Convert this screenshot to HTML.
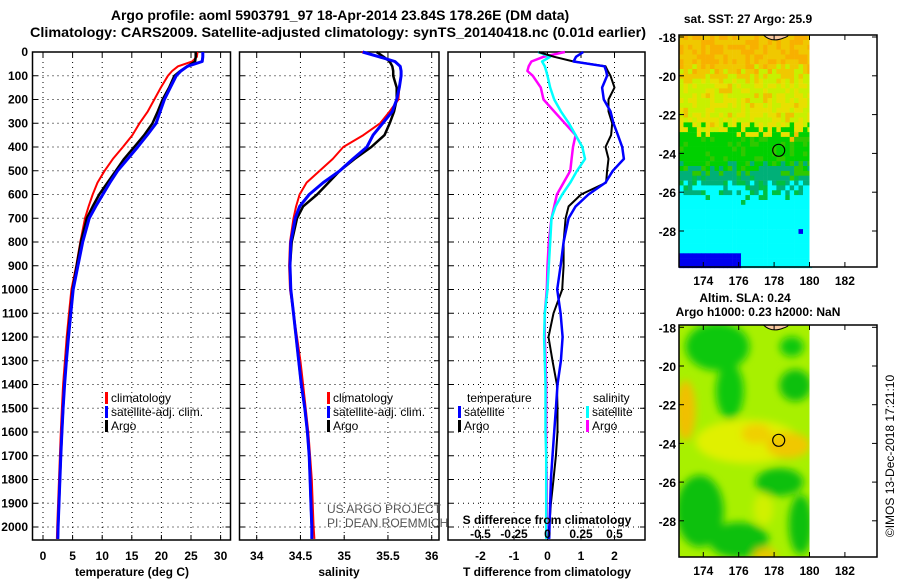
<!DOCTYPE html>
<html><head><meta charset="utf-8"><style>
body{margin:0;background:#fff;}
svg{display:block;font-family:"Liberation Sans",sans-serif;}
.tk{font-size:12px;font-weight:bold;}
.lg{font-size:12px;}
</style></head><body>
<svg id="c" width="900" height="580" viewBox="0 0 900 580">
<text x="340" y="20" text-anchor="middle" font-size="14" font-weight="bold">Argo profile: aoml 5903791_97 18-Apr-2014 23.84S 178.26E (DM data)</text>
<text x="30" y="37" font-size="14" font-weight="bold" textLength="616" lengthAdjust="spacingAndGlyphs">Climatology: CARS2009. Satellite-adjusted climatology: synTS_20140418.nc (0.01d earlier)</text>
<g id="g"></g>
</svg>
<script>
const depths=[0,20,40,60,80,100,150,200,250,300,350,400,450,500,550,600,650,700,800,900,1000,1100,1200,1300,1400,1500,1600,1700,1800,1900,2000,2050];
const tempArgo=[25.8,25.8,25.7,24.4,23.2,22.2,21.3,20.2,19.4,18.5,17.1,15.4,13.7,12.3,10.9,9.5,8.4,7.4,6.4,5.7,5.0,4.6,4.2,3.9,3.6,3.4,3.2,3.0,2.85,2.7,2.55,2.5];
const tempClim=[26.1,26.0,25.2,22.8,21.8,21.1,19.9,18.8,17.7,16.3,15.1,13.5,11.8,10.4,9.2,8.4,7.7,7.1,6.3,5.6,4.8,4.4,4.0,3.7,3.4,3.2,3.0,2.85,2.7,2.55,2.4,2.35];
const tempSat=[27.0,27.0,26.9,24.4,23.3,22.5,21.5,20.5,19.8,19.1,17.6,16.0,14.3,12.6,11.3,10.1,8.9,7.8,6.7,5.9,5.1,4.7,4.3,3.95,3.65,3.4,3.2,3.0,2.85,2.7,2.55,2.5];
const salArgo=[35.37,35.45,35.52,35.55,35.56,35.56,35.6,35.6,35.57,35.52,35.46,35.31,35.12,34.95,34.82,34.69,34.53,34.46,34.4,34.38,34.39,34.42,34.45,34.48,34.51,34.55,34.58,34.6,34.61,34.62,34.63,34.63];
const salClim=[35.2,35.4,35.58,35.64,35.65,35.65,35.63,35.62,35.52,35.41,35.22,34.99,34.87,34.72,34.57,34.49,34.45,34.42,34.38,34.37,34.38,34.42,34.46,34.5,34.53,34.56,34.59,34.61,34.63,34.64,34.65,34.66];
const salSat=[35.21,35.4,35.58,35.64,35.65,35.65,35.63,35.6,35.55,35.44,35.33,35.26,35.1,34.95,34.76,34.6,34.49,34.44,34.39,34.38,34.39,34.42,34.45,34.48,34.51,34.55,34.58,34.6,34.61,34.62,34.63,34.63];
const tdArgo=[-0.27,0.2,0.78,1.73,1.8,1.88,2.0,1.82,1.82,1.93,1.9,1.73,1.82,1.78,1.75,1.0,0.63,0.54,0.48,0.48,0.44,0.18,0.03,0.15,0.28,0.3,0.3,0.25,0.18,0.1,0.05,0.03];
const tdSat=[1.07,0.85,0.78,1.7,1.75,1.78,1.63,1.68,1.88,1.97,2.1,2.23,2.28,1.95,1.73,1.22,0.84,0.63,0.48,0.39,0.29,0.39,0.45,0.4,0.3,0.25,0.2,0.15,0.1,0.08,0.06,0.05];
const sdArgo=[0.13,-0.03,-0.12,-0.14,-0.15,-0.11,-0.05,-0.03,0.05,0.13,0.21,0.19,0.18,0.17,0.12,0.07,0.05,0.03,0.01,0,-0.005,-0.02,-0.02,-0.015,-0.01,-0.01,-0.01,-0.01,-0.005,-0.005,-0.005,0];
const sdSat=[-0.07,0.02,-0.04,-0.02,-0.01,0,0.02,0.05,0.1,0.16,0.21,0.26,0.28,0.22,0.17,0.11,0.06,0.03,0.02,0.01,0,-0.02,-0.025,-0.02,-0.015,-0.015,-0.015,-0.01,-0.01,-0.01,-0.01,-0.01];
const depthTicks=[0,100,200,300,400,500,600,700,800,900,1000,1100,1200,1300,1400,1500,1600,1700,1800,1900,2000];
const tTicks=[0,5,10,15,20,25,30];
const sTicks=[34,34.5,35,35.5,36];
const sTickLabels=["34","34.5","35","35.5","36"];
const tdTicks=[-2,-1,0,1,2];
const sdTicks=[-0.5,-0.25,0,0.25,0.5];
const sdTickLabels=["-0.5","-0.25","0","0.25","0.5"];
const lonTicks=[174,176,178,180,182];
const latTicks=[-18,-20,-22,-24,-26,-28];

const NS="http://www.w3.org/2000/svg";
const G=document.getElementById('g');
function mk(t,a,txt,par){const e=document.createElementNS(NS,t);for(const k in a)e.setAttribute(k,a[k]);if(txt!==undefined)e.textContent=txt;(par||G).appendChild(e);return e;}
const yD=d=>52+d*0.2375;
const xT=v=>43+v*5.92;
const xS=v=>256.7+(v-34)*87.5;
const xTD=v=>547.5+v*33.5;
const xSD=v=>547.5+v*134;
const TOP=52,BOT=540;

function panel(x0,x1,name,xf,ticks,labels){
  const fr=mk('rect',{x:x0,y:TOP,width:x1-x0,height:BOT-TOP,fill:'none',stroke:'#000','stroke-width':1.5});
  
  
  depthTicks.forEach(d=>{const l=mk('line',{x1:x0,x2:x1,y1:yD(d),y2:yD(d),stroke:'#000','stroke-dasharray':'1 4','stroke-width':1});
    
    mk('line',{x1:x0,x2:x0+5,y1:yD(d),y2:yD(d),stroke:'#000'});mk('line',{x1:x1-5,x2:x1,y1:yD(d),y2:yD(d),stroke:'#000'});});
  ticks.forEach((v,i)=>{const x=xf(v);
    const l=mk('line',{x1:x,x2:x,y1:TOP,y2:BOT,stroke:'#000','stroke-dasharray':'1 4'});
    
    mk('line',{x1:x,x2:x,y1:BOT-5,y2:BOT,stroke:'#000'});mk('line',{x1:x,x2:x,y1:TOP,y2:TOP+5,stroke:'#000'});
    const t=mk('text',{x:x,y:560,'text-anchor':'middle',class:'tk'},labels?labels[i]:String(v));
    });
}
function line(xf,vals,col,w,name){
  const pts=vals.map((v,i)=>xf(v).toFixed(1)+','+yD(depths[i]).toFixed(1)).join(' ');
  const p=mk('polyline',{points:pts,fill:'none',stroke:col,'stroke-width':w,'stroke-linejoin':'round'});
  
  
}
depthTicks.forEach(d=>{const t=mk('text',{x:28,y:yD(d)+4,'text-anchor':'end',class:'tk'},String(d));
  });

panel(32.5,230.5,'temperature-panel',xT,tTicks);
line(xT,tempClim,'#f00',2,'temp-climatology-line');
line(xT,tempArgo,'#000',2.5,'temp-argo-line');
line(xT,tempSat,'#00f',3,'temp-satellite-line');

panel(239.5,439,'salinity-panel',xS,sTicks,sTickLabels);
line(xS,salClim,'#f00',2,'sal-climatology-line');
line(xS,salArgo,'#000',2.5,'sal-argo-line');
line(xS,salSat,'#00f',3,'sal-satellite-line');

panel(448,645,'difference-panel',xTD,tdTicks);
line(xSD,sdArgo,'#f0f',2.5,'sdiff-argo-line');
line(xSD,sdSat,'#0ff',2.5,'sdiff-satellite-line');
line(xTD,tdArgo,'#000',2,'tdiff-argo-line');
line(xTD,tdSat,'#00f',2.5,'tdiff-satellite-line');

mk('text',{x:547,y:524,'text-anchor':'middle',class:'tk','font-size':'13'},'S difference from climatology');
sdTicks.forEach((v,i)=>{const t=mk('text',{x:xSD(v),y:538,'text-anchor':'middle',class:'tk'},sdTickLabels[i]);
  });

[['temperature (deg C)',132,'temp-axis-title'],['salinity',339,'salinity-axis-title'],['T difference from climatology',547,'tdiff-axis-title']].forEach(a=>{
  const t=mk('text',{x:a[1],y:576,'text-anchor':'middle',class:'tk'},a[0]);
  });

function leg(x,y,col,txt,name){const r=mk('rect',{x:x,y:y-10,width:3,height:12,fill:col});
  const t=mk('text',{x:x+6,y:y,class:'lg'},txt);
  }
leg(105,402,'#f00','climatology','legend-temp-climatology');
leg(105,416,'#00f','satellite-adj. clim.','legend-temp-satellite');
leg(105,430,'#000','Argo','legend-temp-argo');
leg(327,402,'#f00','climatology','legend-sal-climatology');
leg(327,416,'#00f','satellite-adj. clim.','legend-sal-satellite');
leg(327,430,'#000','Argo','legend-sal-argo');
mk('text',{x:467,y:402,class:'lg'},'temperature');
mk('text',{x:593,y:402,class:'lg'},'salinity');
leg(458,416,'#00f','satellite','legend-tdiff-satellite');
leg(458,430,'#000','Argo','legend-tdiff-argo');
leg(586,416,'#0ff','satellite','legend-sdiff-satellite');
leg(586,430,'#f0f','Argo','legend-sdiff-argo');
mk('text',{x:327,y:513,class:'lg',fill:'#555'},'US ARGO PROJECT');
mk('text',{x:327,y:527,class:'lg',fill:'#555'},'PI: DEAN ROEMMICH');

const MX0=679,MX1=877;
const lonX=l=>703.3+(l-174)*17.7;
function hash(i,j){let h=(i*374761393+j*668265263)>>>0;h=((h^(h>>>13))*1274126177)>>>0;return (h&1023)/1023;}
function map(top,bot,latY,name,sst){
  const g=mk('g',{});
  if(sst){
    const cw=17.7/4,ch=19.4/4;
    for(let lat=-17.9;lat>-29.9;lat-=0.25){for(let lon=172.63;lon<180;lon+=0.25){
      const i=Math.round((lon-172)*4),j=Math.round(-lat*4),h=hash(i,j);
      let c;const L=lat+ (h-0.5)*1.2;
      if(L>-20)c=h<0.5?'#f8b000':'#f0c800';
      else if(L>-22.8)c=h<0.45?'#c8f000':(h<0.8?'#e8e000':'#f0c000');
      else if(L>-24.8)c=h<0.6?'#00d000':'#30c800';
      else if(L>-25.9)c=h<0.7?'#00b078':'#00c040';
      else c='#00ffff';
      if(lat<-29&&lon<176)c='#0000f0';
      if(lat<-26&&lon>177.5&&h>0.93)c='#0000f0';
      mk('rect',{x:lonX(lon).toFixed(1),y:latY(lat).toFixed(1),width:cw+0.3,height:ch+0.3,fill:c},undefined,g);}}
  }else{
    mk('rect',{x:MX0,y:top,width:lonX(180)-MX0,height:bot-top,fill:'#a8f000'},undefined,g);
    const f=mk('filter',{id:'bl',x:'-50%',y:'-50%',width:'200%',height:'200%'},undefined,g);
    mk('feGaussianBlur',{stdDeviation:4},undefined,f);
    const b=mk('g',{filter:'url(#bl)'},undefined,g);
    [[174.8,-19,32,24,'#10c810'],[175.5,-21.3,14,28,'#10c810'],[179,-19,12,10,'#10c810'],[179.2,-21,16,16,'#10c010'],[176.5,-23.9,52,22,'#e0f000'],[173,-22.3,10,30,'#f0c000'],[178.8,-24.1,22,13,'#f0c800'],[177,-23.5,15,10,'#f0d000'],
     [173.8,-27.5,24,36,'#10c010'],[176,-29,30,18,'#10c010'],[178.3,-26,24,14,'#10c010'],[177.4,-27.4,10,16,'#d0f000'],[179.5,-28.2,12,30,'#10c010'],[177.5,-29.8,12,8,'#e8c800']].forEach(e=>{
      mk('ellipse',{cx:lonX(e[0]),cy:latY(e[1]),rx:e[2],ry:e[3],fill:e[4]},undefined,b);});
    const cp=mk('clipPath',{id:'cpm'},undefined,g);mk('rect',{x:MX0,y:top,width:lonX(180)-MX0,height:bot-top},undefined,cp);
    b.setAttribute('clip-path','url(#cpm)');
  }
  mk('rect',{x:lonX(180),y:top,width:MX1-lonX(180),height:bot-top,fill:'#fff'},undefined,g);
  mk('path',{d:`M${lonX(177.4)} ${top} q8 8 20 3 q6 -2 4 -3 z`,fill:'#f8c8a0',stroke:'#000'},undefined,g);
  mk('circle',{cx:lonX(178.26),cy:latY(-23.84),r:6,fill:'none',stroke:'#000','stroke-width':1.2},undefined,g);
  mk('rect',{x:MX0,y:top,width:MX1-MX0,height:bot-top,fill:'none',stroke:'#000','stroke-width':1.5},undefined,g);
  latTicks.forEach(l=>{const y=latY(l);mk('line',{x1:MX1,x2:MX1-5,y1:y,y2:y,stroke:'#000'});mk('line',{x1:MX0,x2:MX0+5,y1:y,y2:y,stroke:'#000'});
    const t=mk('text',{x:676,y:y+5,'text-anchor':'end',class:'tk','font-size':'13'},String(l));});
  lonTicks.forEach(l=>{const x=lonX(l);mk('line',{x1:x,x2:x,y1:bot,y2:bot-5,stroke:'#000'});mk('line',{x1:x,x2:x,y1:top,y2:top+5,stroke:'#000'});
    const t=mk('text',{x:x,y:bot+18,'text-anchor':'middle',class:'tk','font-size':'13'},String(l));});
}
map(35,267,l=>37+(-18-l)*19.4,'sst-map',true);
map(325,557,l=>327.3+(-18-l)*19.35,'sla-map',false);
mk('text',{x:748,y:23,'text-anchor':'middle',class:'tk'},'sat. SST: 27 Argo: 25.9');
mk('text',{x:745,y:302,'text-anchor':'middle',class:'tk'},'Altim. SLA: 0.24');
mk('text',{x:758,y:316,'text-anchor':'middle',class:'tk'},'Argo h1000: 0.23 h2000: NaN');
mk('text',{x:0,y:0,transform:'translate(894,456) rotate(-90)','text-anchor':'middle',class:'lg','font-size':'13'},'©IMOS 13-Dec-2018 17:21:10');
</script>
</body></html>
